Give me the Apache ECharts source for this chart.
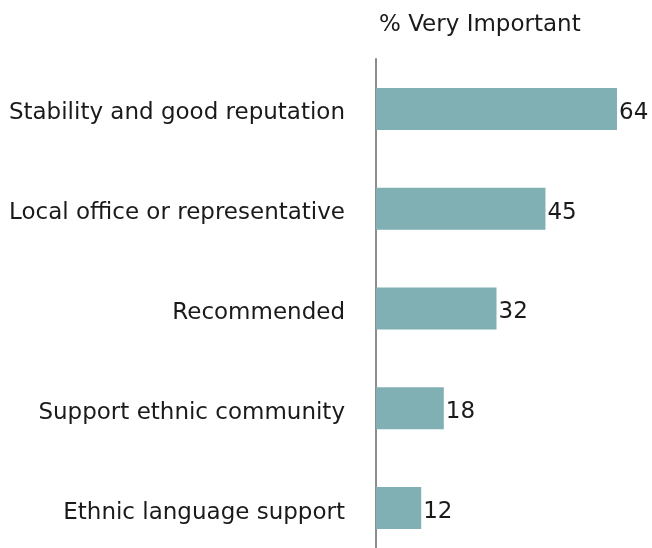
<!DOCTYPE html>
<html>
<head>
<meta charset="utf-8">
<script src="https://cdn.jsdelivr.net/npm/echarts@6/dist/echarts.min.js"></script>
<style>
  html, body { margin: 0; padding: 0; background: #fff; overflow: hidden; }
  /* the plot runs a little past the bottom edge of the window */
  #chart { width: 652px; height: 562px; }
</style>
</head>
<body>
<div id="chart"></div>
<script>
const categories = [
  'Stability and good reputation',
  'Local office or representative',
  'Recommended',
  'Support ethnic community',
  'Ethnic language support'
];
const veryImportant = [64, 45, 32, 18, 12];
const seriesTitle = '% Very Important';

const FONT = '"DejaVu Sans", sans-serif';
const chart = echarts.init(document.getElementById('chart'), null, { renderer: 'canvas' });
chart.setOption({
  animation: false,
  title: {
    text: seriesTitle,
    left: 374,
    top: 9,
    textStyle: { fontFamily: FONT, fontSize: 23, fontWeight: 'normal', color: '#1a1a1a' }
  },
  grid: { left: 376, top: 59, right: 12.4, height: 499, containLabel: false },
  xAxis: {
    type: 'value',
    min: 0,
    max: 70,
    show: false
  },
  yAxis: {
    type: 'category',
    data: categories,
    inverse: true,
    axisLine: { show: true, lineStyle: { color: '#8c8c8c', width: 2 } },
    axisTick: { show: false },
    axisLabel: {
      margin: 31,
      formatter: v => '{t|' + v + '}',
      rich: {
        t: { fontFamily: FONT, fontSize: 23, color: '#1a1a1a', padding: [9, 0, 0, 0] }
      }
    }
  },
  series: [{
    type: 'bar',
    data: veryImportant,
    barWidth: 42,
    itemStyle: { color: '#80afb4' },
    label: {
      show: true,
      position: 'right',
      distance: 2,
      offset: [0, 4],
      fontFamily: FONT,
      fontSize: 23,
      color: '#1a1a1a'
    }
  }]
});
</script>
</body>
</html>
